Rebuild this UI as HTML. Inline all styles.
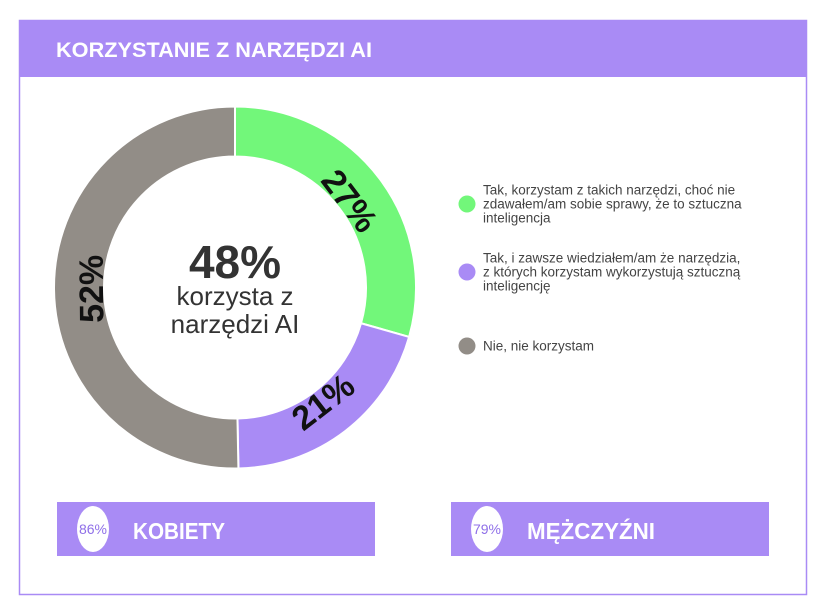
<!DOCTYPE html>
<html><head><meta charset="utf-8"><style>
body{margin:0;background:#fff;width:829px;height:616px;overflow:hidden;font-family:"Liberation Sans",sans-serif}
svg{position:absolute;left:0;top:0}
</style></head><body>
<svg id="c" width="829" height="616">
<rect x="19.5" y="20.5" width="787" height="574" fill="#fff" stroke="#a98bf5" stroke-width="1.5"/>
<rect x="19" y="20" width="788" height="57" fill="#a98bf5"/>
<text x="56" y="57" fill="#fff" font-size="21" font-weight="bold" textLength="316" lengthAdjust="spacingAndGlyphs">KORZYSTANIE Z NARZĘDZI AI</text>
<g id="donut"></g>
<text x="235" y="278" text-anchor="middle" font-size="46" font-weight="bold" fill="#333">48%</text>
<text x="235" y="305" text-anchor="middle" font-size="26" fill="#333">korzysta z</text>
<text x="235" y="333" text-anchor="middle" font-size="26" fill="#333">narzędzi AI</text>
<g id="legend"></g>
<g>
<rect x="57" y="502" width="318" height="54" fill="#a98bf5"/>
<ellipse cx="93" cy="529" rx="16" ry="23" fill="#fff"/>
<text x="93" y="534" text-anchor="middle" font-size="14" fill="#8f6fe8" textLength="28" lengthAdjust="spacingAndGlyphs">86%</text>
<text x="133" y="539" font-size="23" font-weight="bold" fill="#fff" textLength="92" lengthAdjust="spacingAndGlyphs">KOBIETY</text>
</g>
<g>
<rect x="451" y="502" width="318" height="54" fill="#a98bf5"/>
<ellipse cx="487" cy="529" rx="16" ry="23" fill="#fff"/>
<text x="487" y="534" text-anchor="middle" font-size="14" fill="#8f6fe8" textLength="28" lengthAdjust="spacingAndGlyphs">79%</text>
<text x="527" y="539" font-size="23" font-weight="bold" fill="#fff" textLength="128" lengthAdjust="spacingAndGlyphs">MĘŻCZYŹNI</text>
</g>
</svg>
<script>
const categories=["Tak, korzystam z takich narzędzi, choć nie|zdawałem/am sobie sprawy, że to sztuczna|inteligencja","Tak, i zawsze wiedziałem/am że narzędzia,|z których korzystam wykorzystują sztuczną|inteligencję","Nie, nie korzystam"];
const values=[29.4,20.3,50.3];
const labels=["27%","21%","52%"];
const colors=["#72f77a","#a98bf5","#928d87"];
const NS="http://www.w3.org/2000/svg";
const cx=235,cy=287.5,R=181,r=131;
const total=values.reduce((a,b)=>a+b,0);
function pt(a,rad){return [cx+rad*Math.sin(a),cy-rad*Math.cos(a)];}
const g=document.getElementById('donut');
let acc=0;
values.forEach((v,i)=>{
  const a0=acc/total*2*Math.PI,a1=(acc+v)/total*2*Math.PI;acc+=v;
  const l=(a1-a0)>Math.PI?1:0;
  const [x0,y0]=pt(a0,R),[x1,y1]=pt(a1,R),[x2,y2]=pt(a1,r),[x3,y3]=pt(a0,r);
  const p=document.createElementNS(NS,'path');
  p.setAttribute('d',`M${x0},${y0}A${R},${R} 0 ${l} 1 ${x1},${y1}L${x2},${y2}A${r},${r} 0 ${l} 0 ${x3},${y3}Z`);
  p.setAttribute('fill',colors[i]);p.setAttribute('stroke','#fff');p.setAttribute('stroke-width','2');
  
  
  g.appendChild(p);
  const am=(a0+a1)/2,[tx,ty]=pt(am,144);
  let deg=am*180/Math.PI; while(deg>=89)deg-=180;
  const t=document.createElementNS(NS,'text');
  t.setAttribute('x',tx);t.setAttribute('y',ty+12);
  t.setAttribute('text-anchor','middle');t.setAttribute('font-size','34');t.setAttribute('font-weight','bold');t.setAttribute('fill','#111');
  t.setAttribute('transform',`rotate(${deg} ${tx} ${ty})`);
  t.textContent=labels[i];
  
  
  g.appendChild(t);
});
const lg=document.getElementById('legend');
const ly=[204,272,346];
categories.forEach((c,i)=>{
  const ci=document.createElementNS(NS,'circle');
  ci.setAttribute('cx',467);ci.setAttribute('cy',ly[i]);ci.setAttribute('r',8.5);ci.setAttribute('fill',colors[i]);
  
  
  lg.appendChild(ci);
  const lines=c.split('|');
  const t=document.createElementNS(NS,'text');
  t.setAttribute('font-size','13.5');t.setAttribute('fill','#444');
  
  
  const y0=ly[i]-(lines.length-1)*7+4.5;
  lines.forEach((s,j)=>{const ts=document.createElementNS(NS,'tspan');ts.setAttribute('x',483);ts.setAttribute('y',y0+j*14);ts.textContent=s;t.appendChild(ts);});
  lg.appendChild(t);
});
</script>
</body></html>
